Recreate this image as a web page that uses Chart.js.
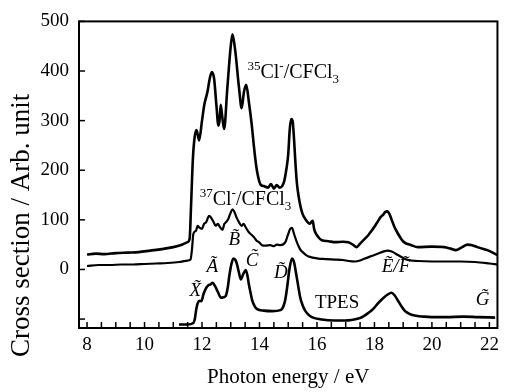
<!DOCTYPE html>
<html><head><meta charset="utf-8">
<script src="https://cdn.jsdelivr.net/npm/chart.js@4.4.1/dist/chart.umd.min.js"></script>
<style>html,body{margin:0;padding:0;background:#fff;} #wrap{width:505px;height:392px;}</style>
</head><body><div id="wrap"><canvas id="c" width="505" height="392"></canvas></div>
<script>
// 35Cl-/CFCl3 ion yield (photon energy eV, cross section)
const e35 = [8.0,8.3,8.6,9.0,9.4,9.8,10.2,10.6,11.0,11.3,11.5,11.57,11.62,11.68,11.74,11.81,11.9,12.0,12.08,12.19,12.27,12.34,12.42,12.5,12.57,12.61,12.65,12.7,12.77,12.88,13.0,13.06,13.15,13.29,13.38,13.46,13.54,13.63,13.73,13.81,13.89,13.96,14.04,14.15,14.3,14.4,14.5,14.6,14.7,14.79,14.86,14.93,15.0,15.05,15.1,15.15,15.2,15.25,15.3,15.36,15.48,15.6,15.75,15.85,15.9,15.94,16.05,16.17,16.4,16.63,16.9,17.09,17.25,17.38,17.5,17.67,17.8,17.9,18.0,18.13,18.22,18.3,18.38,18.45,18.52,18.6,18.7,18.82,18.95,19.05,19.28,19.51,20.0,20.43,20.65,20.83,21.05,21.24,21.4,21.58,21.93,22.28];
const v35 = [30,32,31,33,34,35,38,41,45,50,55,62,130,220,265,281,260,300,332,358,385,398,385,332,290,300,332,310,283,365,450,474,444,365,325,358,372,338,292,246,207,185,171,168,165,172,163,170,165,168,178,200,232,280,303,300,265,215,175,148,115,101,92,98,82,75,65,59,57,55,56,55,50,45,52,62,70,78,86,98,106,110,116,117,112,100,85,72,60,54,49,45,46,45,42,39,45,50,49,45,39,29];
// 37Cl-/CFCl3 ion yield
const e37 = [8.0,8.4,8.8,9.2,9.6,10.0,10.4,10.8,11.2,11.5,11.6,11.65,11.7,11.79,11.85,11.9,12.0,12.07,12.14,12.25,12.32,12.4,12.48,12.55,12.62,12.71,12.78,12.83,12.9,12.98,13.06,13.12,13.2,13.29,13.38,13.45,13.52,13.63,13.72,13.81,13.9,13.98,14.09,14.2,14.38,14.5,14.6,14.73,14.9,14.98,15.07,15.13,15.2,15.3,15.4,15.48,15.6,15.71,15.85,16.05,16.3,16.6,16.9,17.1,17.32,17.5,17.67,17.9,18.13,18.3,18.47,18.6,18.82,19.0,19.16,19.5,20.0,20.5,21.0,21.5,22.0,22.28];
const v37 = [7,9,9,10,10,11,12,13,15,18,20,40,72,78,88,85,82,92,95,108,104,96,88,92,86,80,92,95,100,112,121,117,105,95,88,92,85,75,70,65,58,55,49,48,49,47,50,49,55,68,82,84,72,55,42,36,30,26,24,22,21,20,19,17,16,18,22,27,32,36,38,36,29,23,19,17,16,16,16,15,12,10];
// Threshold photoelectron spectrum (TPES)
const eTpes = [11.2,11.5,11.7,11.75,11.8,11.85,11.92,11.98,12.05,12.12,12.2,12.3,12.37,12.45,12.55,12.66,12.75,12.83,12.9,12.94,13.02,13.09,13.15,13.21,13.28,13.35,13.43,13.52,13.58,13.63,13.7,13.75,13.84,13.92,14.15,14.45,14.73,14.84,14.9,14.96,15.04,15.13,15.2,15.3,15.42,15.5,15.59,15.7,15.82,16.17,16.6,16.98,17.2,17.44,17.6,17.78,17.95,18.13,18.3,18.45,18.59,18.7,18.82,18.95,19.05,19.2,19.4,19.7,19.97,20.5,21.1,21.6,22.2];
const vTpes = [-111,-111,-108,-100,-80,-68,-63,-64,-50,-40,-33,-30,-27,-33,-45,-57,-56,-53,-35,-17,10,22,20,12,-5,-20,-10,-1,-12,-30,-50,-63,-75,-80,-83,-84,-82,-73,-60,-37,0,22,15,-17,-57,-72,-83,-91,-96,-101,-103,-103,-102,-99,-95,-88,-80,-68,-58,-51,-47,-52,-63,-75,-83,-89,-93,-95,-96,-96,-95,-96,-97];

const xTickLabels = [8,10,12,14,16,18,20,22];
const yTickLabels = [0,100,200,300,400,500];
const yMinorTicks = [-100];

const peakLabels = ['X\u0303','A\u0303','B\u0303','C\u0303','D\u0303','E\u0303/F\u0303','G\u0303'];
const peakLabelPos = [[11.77,-43],[12.36,4],[13.12,59],[13.74,18],[14.74,-8],[18.75,4],[21.76,-61]];
const yTitle = 'Cross section / Arb. unit';

const FONT = "'Liberation Serif','Times New Roman',serif";

function pts(xs, ys){ return xs.map((x,i)=>({x:x,y:ys[i]})); }

const xTicksAll = [];
for (let v = 8; v <= 22.001; v += 0.5) xTicksAll.push(Math.round(v*10)/10);

const overlay = {
  id:'overlay',
  afterDraw(chart){
    const ctx = chart.ctx, a = chart.chartArea;
    const xs = chart.scales.x, ys = chart.scales.y;
    ctx.save();
    ctx.strokeStyle = '#000';
    ctx.lineWidth = 1.5;
    xTicksAll.forEach(v=>{
      const px = xs.getPixelForValue(v);
      ctx.beginPath(); ctx.moveTo(px, a.bottom); ctx.lineTo(px, a.bottom-6); ctx.stroke();
    });
    yTickLabels.concat(yMinorTicks).forEach(v=>{
      const py = ys.getPixelForValue(v);
      ctx.beginPath(); ctx.moveTo(a.left, py); ctx.lineTo(a.left+6, py); ctx.stroke();
    });
    ctx.lineWidth = 2;
    ctx.strokeRect(a.left, a.top, a.right-a.left, a.bottom-a.top);
    ctx.fillStyle = '#000';
    // y-axis title (rotated)
    ctx.save();
    ctx.translate(22, 357);
    ctx.rotate(-Math.PI/2);
    ctx.font = '27px ' + FONT;
    ctx.textAlign = 'left'; ctx.textBaseline = 'middle';
    ctx.fillText(yTitle, 0, 0);
    ctx.restore();
    ctx.textBaseline = 'alphabetic';
    function rich(parts, x, y){
      let cx = x;
      parts.forEach(p=>{
        const size = p.s ? 13 : 20;
        ctx.font = size + 'px ' + FONT;
        const dy = p.s === 'sup' ? -8 : (p.s === 'sub' ? 5 : 0);
        ctx.textAlign = 'left';
        ctx.fillText(p.t, cx, y + dy);
        cx += ctx.measureText(p.t).width;
      });
    }
    rich([{t:'35',s:'sup'},{t:'Cl'},{t:'-',s:'sup'},{t:'/CFCl'},{t:'3',s:'sub'}], xs.getPixelForValue(13.58), ys.getPixelForValue(386));
    rich([{t:'37',s:'sup'},{t:'Cl'},{t:'-',s:'sup'},{t:'/CFCl'},{t:'3',s:'sub'}], xs.getPixelForValue(11.92), ys.getPixelForValue(130));
    ctx.font = '19px ' + FONT;
    ctx.textAlign = 'center'; ctx.textBaseline = 'middle';
    ctx.fillText('TPES', xs.getPixelForValue(16.7), ys.getPixelForValue(-67));
    ctx.font = 'italic 19px ' + FONT;
    peakLabels.forEach((t,i)=>{
      ctx.fillText(t, xs.getPixelForValue(peakLabelPos[i][0]), ys.getPixelForValue(peakLabelPos[i][1]));
    });
    ctx.restore();
  }
};

const lineStyle = {showLine:true, borderColor:'#000', pointRadius:0, cubicInterpolationMode:'monotone'};

new Chart(document.getElementById('c'), {
  type:'scatter',
  data:{ datasets:[
    Object.assign({label:'35Cl-/CFCl3', data:pts(e35,v35), borderWidth:2.6}, lineStyle),
    Object.assign({label:'37Cl-/CFCl3', data:pts(e37,v37), borderWidth:2.2}, lineStyle),
    Object.assign({label:'TPES', data:pts(eTpes,vTpes), borderWidth:2.6}, lineStyle)
  ]},
  options:{
    responsive:false, animation:false, devicePixelRatio:1,
    layout:{padding:{top:15,right:5,left:0,bottom:0}},
    plugins:{legend:{display:false}, tooltip:{enabled:false}},
    scales:{
      x:{ type:'linear', min:7.72, max:22.28,
        afterBuildTicks(s){ s.ticks = xTickLabels.map(v=>({value:v})); },
        afterFit(s){ s.height = 64; },
        grid:{display:false, drawTicks:false}, border:{display:false},
        ticks:{ color:'#000', font:{family:FONT, size:19}, padding:6, maxRotation:0, autoSkip:false },
        title:{ display:true, text:'Photon energy / eV', color:'#000', font:{family:FONT, size:21}, padding:{top:0,bottom:2} }
      },
      y:{ type:'linear', min:-118, max:500,
        afterBuildTicks(s){ s.ticks = yTickLabels.map(v=>({value:v})); },
        afterFit(s){ s.width = 79; },
        grid:{display:false, drawTicks:false}, border:{display:false},
        ticks:{ color:'#000', font:{family:FONT, size:19}, padding:10, autoSkip:false },
        title:{ display:false }
      }
    }
  },
  plugins:[overlay]
});
</script></body></html>
